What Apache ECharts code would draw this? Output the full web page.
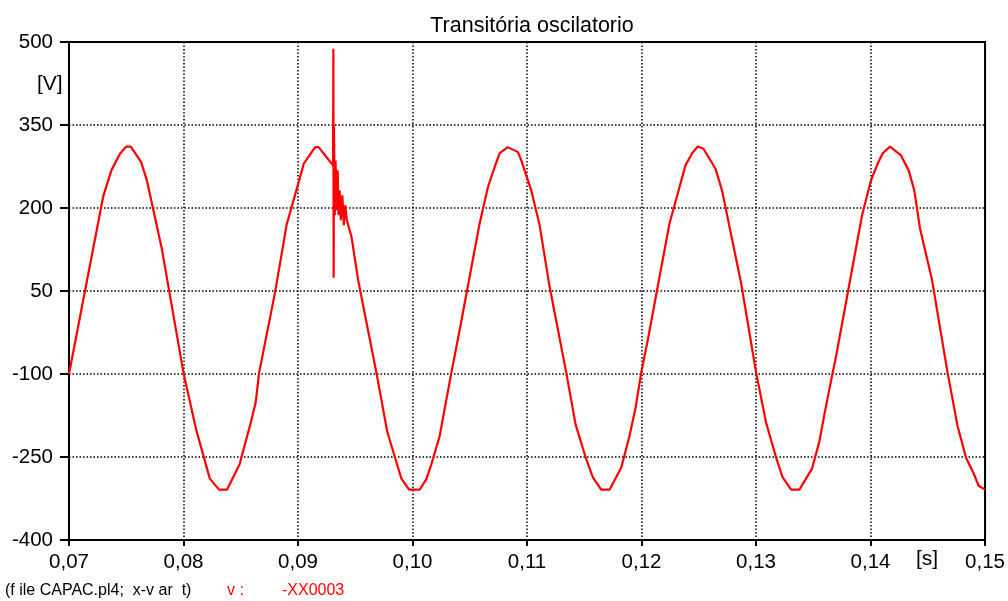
<!DOCTYPE html>
<html>
<head>
<meta charset="utf-8">
<script src="https://cdn.jsdelivr.net/npm/echarts@6/dist/echarts.min.js"></script>
<style>
  html, body { margin: 0; padding: 0; background: #fff; }
  #chart { width: 1008px; height: 601px; }
</style>
</head>
<body>
<div id="chart"></div>
<script>
// tempo [s]
var tempo = [
  0.0700, 0.0730, 0.0737, 0.07445, 0.0750, 0.0754, 0.0763, 0.0768, 0.0781, 0.0800,
  0.0811, 0.0823, 0.0831, 0.0838, 0.0849, 0.0854, 0.0858, 0.0863, 0.0866, 0.0880,
  0.0890, 0.0901, 0.0905, 0.0910, 0.0915, 0.0918, 0.0926, 0.09306, 0.09309, 0.09311,
  0.09314, 0.09321, 0.09328, 0.09337, 0.09346, 0.09354, 0.09363, 0.09374, 0.09387, 0.09400,
  0.09413, 0.09426, 0.09435, 0.09467, 0.09525, 0.09685, 0.09778, 0.0986, 0.09903, 0.0997,
  0.10063, 0.10121, 0.10165, 0.10237, 0.10339, 0.10412, 0.10586, 0.10659, 0.10717, 0.10761,
  0.10833, 0.10921, 0.1095, 0.11037, 0.1111, 0.11197, 0.11343, 0.11424, 0.11517, 0.11575,
  0.11648, 0.11721, 0.11823, 0.11895, 0.11948, 0.11997, 0.12055, 0.12244, 0.12332, 0.12384,
  0.12442, 0.12491, 0.12541, 0.12646, 0.12704, 0.12768, 0.1287, 0.13001, 0.13088, 0.13175,
  0.13233, 0.13306, 0.13379, 0.13489, 0.13553, 0.13597, 0.13669, 0.13699, 0.13926, 0.14004,
  0.14062, 0.14106, 0.1417, 0.14266, 0.14333, 0.14382, 0.14432, 0.14537, 0.14673, 0.1476,
  0.14833, 0.14897, 0.14944, 0.1500
];
// tensão v:-XX0003 [V]
var tensao = [
  -100, 222, 268, 298, 311, 311, 283, 250, 127, -98,
  -200, -289, -309, -309, -263, -224, -194, -152, -98, 48,
  169, 250, 280, 295, 310, 310, 289, 277, 488, 74,
  349, 187, 286, 196, 268, 187, 232, 178, 223, 169,
  205, 178, 181, 148, 70, -98, -203, -260, -289, -309,
  -309, -290, -263, -212, -98, -20, 172, 238, 274, 299,
  310, 301, 286, 232, 169, 58, -98, -191, -254, -287,
  -309, -309, -269, -212, -161, -98, -38, 172, 238, 277,
  299, 311, 307, 271, 231, 166, 64, -98, -188, -251,
  -287, -309, -309, -271, -222, -173, -98, -68, 187, 250,
  280, 299, 311, 295, 268, 232, 163, 70, -98, -194,
  -251, -278, -302, -309
];
var yMin = -400, yMax = 500, yStep = 150;
var xMin = 0.07, xMax = 0.15, xStep = 0.01;

// eixo y deslocado para que os ticks comecem em -400
var pontos = tempo.map(function (t, i) { return [t, tensao[i] - yMin]; });

var chart = echarts.init(document.getElementById('chart'));
var fonte = '"Liberation Sans", Arial, sans-serif';
var pontilhado = { color: '#000', width: 1.5, type: [1.5, 2] };

chart.setOption({
  animation: false,
  backgroundColor: '#fff',
  title: {
    text: 'Transitória oscilatorio',
    left: 527, top: 10, textAlign: 'center',
    textStyle: { fontFamily: fonte, fontSize: 21.5, fontWeight: 'normal', color: '#000' }
  },
  grid: {
    left: 69, right: 22, top: 42, bottom: 61,
    show: true, borderColor: '#000', borderWidth: 2
  },
  xAxis: {
    type: 'value', min: xMin, max: xMax, interval: xStep,
    axisLine: { lineStyle: { color: '#000', width: 2 } },
    axisTick: { length: 6, lineStyle: { color: '#000', width: 2 } },
    axisLabel: {
      margin: 12, fontFamily: fonte, fontSize: 20.5, color: '#000',
      formatter: function (v) { return v.toFixed(2).replace('.', ','); }
    },
    splitLine: { show: true, lineStyle: pontilhado }
  },
  yAxis: {
    type: 'value', min: 0, max: yMax - yMin, interval: yStep,
    axisLine: { show: true, lineStyle: { color: '#000', width: 2 } },
    axisTick: { show: true, length: 9, lineStyle: { color: '#000', width: 2 } },
    axisLabel: {
      margin: 16, fontFamily: fonte, fontSize: 20.5, color: '#000',
      formatter: function (v) { return String(Math.round(v + yMin)); }
    },
    splitLine: { show: true, lineStyle: pontilhado }
  },
  series: [{
    type: 'line',
    data: pontos,
    showSymbol: false,
    lineStyle: { color: '#ff0000', width: 2.2 },
    itemStyle: { color: '#ff0000' }
  }],
  graphic: [
    { type: 'text', left: 37, top: 74, style: { text: '[V]', font: '21px ' + fonte, fill: '#000' } },
    { type: 'text', left: 916, top: 549, style: { text: '[s]', font: '21px ' + fonte, fill: '#000' } },
    { type: 'text', left: 5, top: 583, style: { text: '(f ile CAPAC.pl4;  x-v ar  t)', font: '16px ' + fonte, fill: '#000' } },
    { type: 'text', left: 227, top: 583, style: { text: 'v :', font: '16px ' + fonte, fill: '#ff0000' } },
    { type: 'text', left: 282, top: 583, style: { text: '-XX0003', font: '16px ' + fonte, fill: '#ff0000' } }
  ]
});
</script>
</body>
</html>
